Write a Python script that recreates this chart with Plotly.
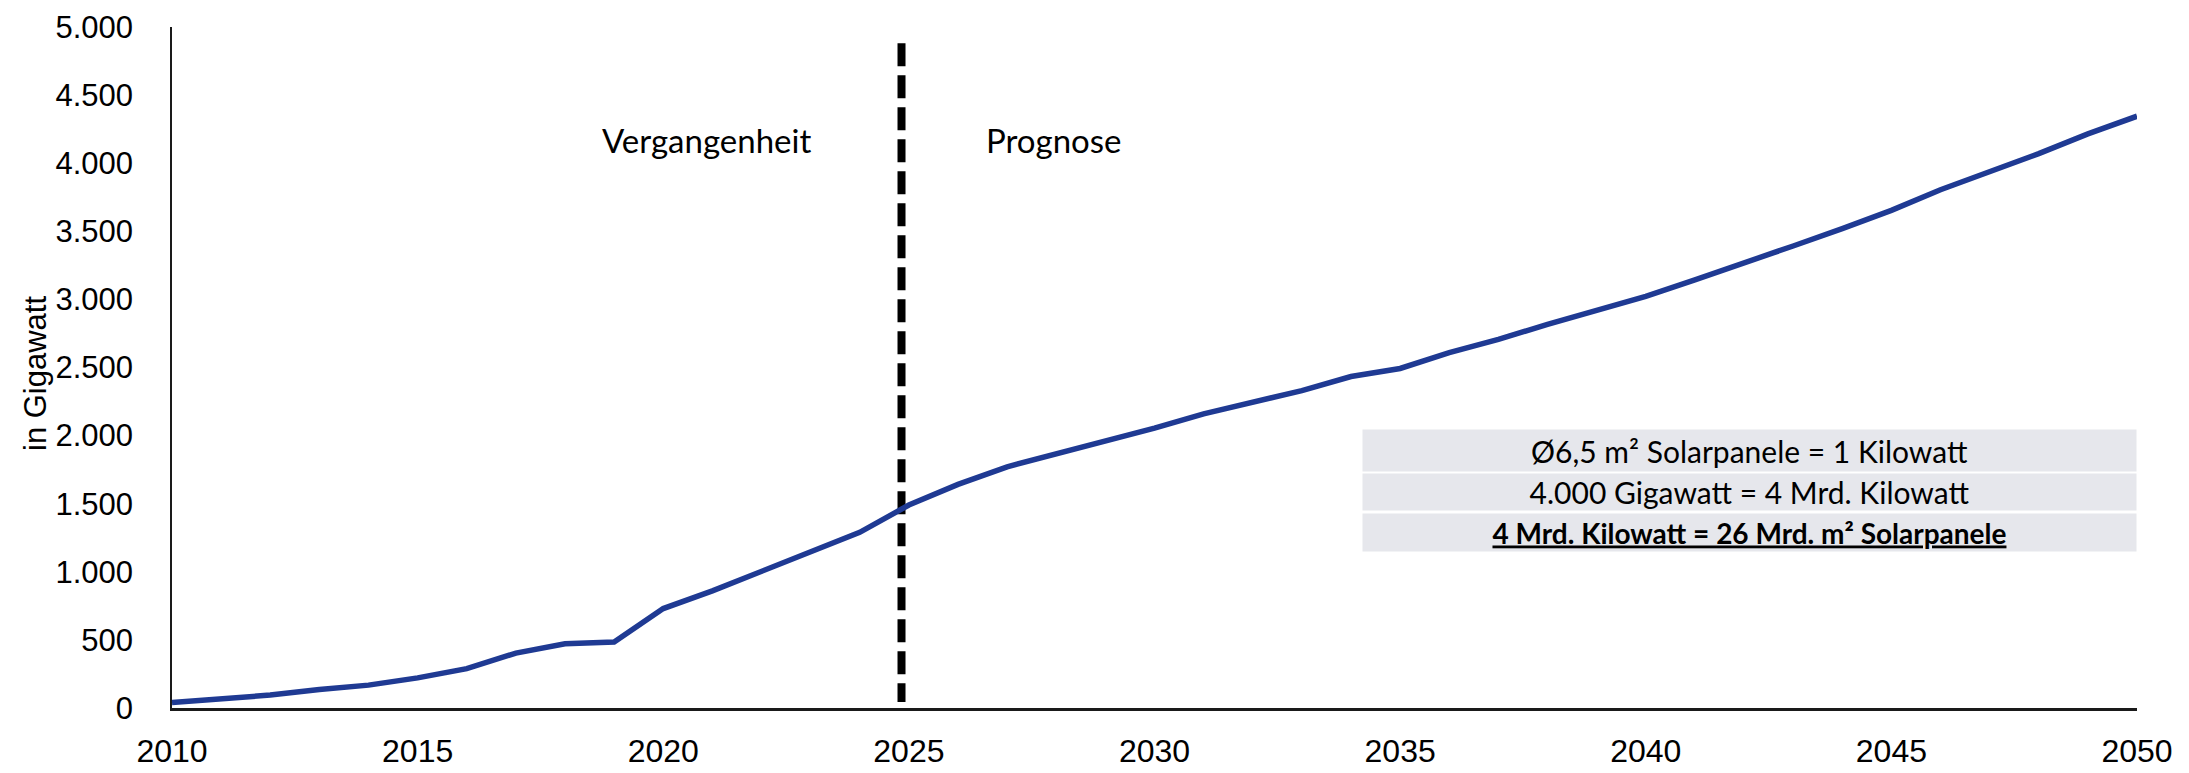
import plotly.graph_objects as go

years = list(range(2010, 2051))
capacity_gw = [40, 70, 95, 136, 168, 221, 289, 403, 472, 485,
               730, 860, 1000, 1145, 1290, 1490, 1642, 1771, 1863, 1960,
               2055, 2160, 2245, 2330, 2434, 2493, 2609, 2707, 2816, 2920,
               3022, 3144, 3265, 3392, 3520, 3654, 3805, 3934, 4070, 4215,
               4345]

forecast_start = 2024.85
divider_y = [4880, 44]

x_ticks = [2010, 2015, 2020, 2025, 2030, 2035, 2040, 2045, 2050]
y_ticks = [0, 500, 1000, 1500, 2000, 2500, 3000, 3500, 4000, 4500, 5000]

period_labels = ["Vergangenheit", "Prognose"]
info_lines = ["Ø6,5 m² Solarpanele = 1 Kilowatt",
              "4.000 Gigawatt = 4 Mrd. Kilowatt",
              "<b><u>4 Mrd. Kilowatt = 26 Mrd. m² Solarpanele</u></b>"]
y_title = "in Gigawatt"

# page is offset by the default 8px body margin
OFF = 8
PAGE_W, PAGE_H = 2189, 773
W, H = PAGE_W - OFF, PAGE_H - OFF
plot_l, plot_r, plot_t, plot_b = 172, 2137, 27, 708   # page pixels
ml, mt = plot_l - OFF, plot_t - OFF
mr, mb = W - (plot_r - OFF), H - (plot_b - OFF)
pw, ph = plot_r - plot_l, plot_b - plot_t

def px_x(x):
    return (x - plot_l) / pw

def px_y(y):
    return (plot_b - y) / ph

fig = go.Figure()
fig.add_trace(go.Scatter(
    x=[forecast_start, forecast_start], y=divider_y, mode="lines",
    line=dict(color="black", width=8, dash="23px,9px"),
    hoverinfo="skip", showlegend=False))
fig.add_trace(go.Scatter(
    x=years, y=capacity_gw, mode="lines",
    line=dict(color="#1F3A93", width=5.5),
    showlegend=False))

annotations = [
    dict(text=period_labels[0], x=px_x(706), y=px_y(140), xref="paper", yref="paper",
         showarrow=False, font=dict(family="Lato", size=33, color="black"),
         xanchor="center", yanchor="middle"),
    dict(text=period_labels[1], x=px_x(1053), y=px_y(140), xref="paper", yref="paper",
         showarrow=False, font=dict(family="Lato", size=33, color="black"),
         xanchor="center", yanchor="middle"),
    dict(text=y_title, x=px_x(35), y=px_y(374), xref="paper", yref="paper",
         showarrow=False, textangle=-90, font=dict(family="Liberation Sans", size=31, color="black"),
         xanchor="center", yanchor="middle"),
]
row_centers = [450.5, 492, 532]
row_heights = [41, 36, 37]
row_sizes = [30, 30, 28]
for txt, cy, hh, fs in zip(info_lines, row_centers, row_heights, row_sizes):
    annotations.append(dict(
        text=txt, x=px_x(1749), y=px_y(cy), xref="paper", yref="paper",
        showarrow=False, xanchor="center", yanchor="middle",
        width=773, height=hh, bgcolor="#E6E7EC", borderpad=0, align="center",
        valign="middle", font=dict(family="Lato", size=fs, color="black")))

fig.update_layout(
    width=W, height=H,
    margin=dict(l=ml, r=mr, t=mt, b=mb, autoexpand=False),
    paper_bgcolor="white", plot_bgcolor="white",
    separators=",.",
    annotations=annotations,
    xaxis=dict(range=[2010, 2050], tickvals=x_ticks, tickformat="d", automargin=False,
               showgrid=False, zeroline=False, showline=True, linecolor="#1a1a1a",
               linewidth=2.5, ticks="", ticklabelstandoff=13, ticklabeloverflow="allow",
               tickfont=dict(family="Liberation Sans", size=32, color="black")),
    yaxis=dict(range=[0, 5000], tickvals=y_ticks, tickformat=",d", automargin=False,
               showgrid=False, zeroline=False, showline=True, linecolor="#1a1a1a",
               linewidth=1.5, ticks="", ticklabelstandoff=31, ticklabeloverflow="allow",
               tickfont=dict(family="Liberation Sans", size=31, color="black")),
)

fig.write_html("out.html")
